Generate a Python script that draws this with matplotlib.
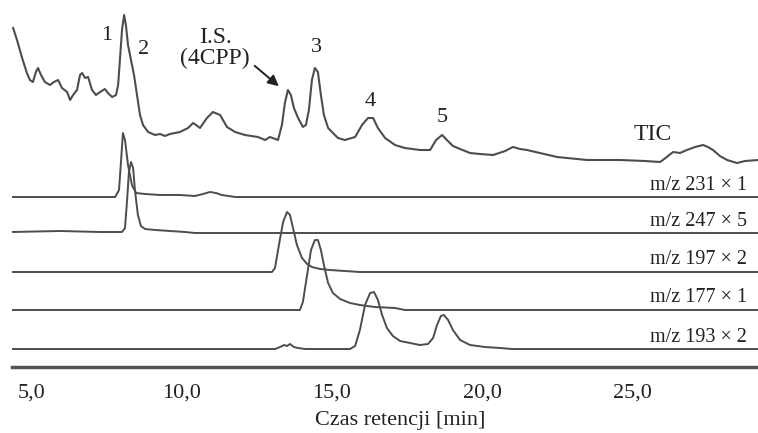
import matplotlib.pyplot as plt
import numpy as np

# retention time [min] and intensity (arbitrary units, relative to own baseline)
tic_t = [4.37, 4.50, 4.67, 4.83, 4.93, 5.03, 5.13, 5.20, 5.30, 5.43,
         5.60, 5.73, 5.87, 6.00, 6.17, 6.27, 6.37, 6.50, 6.60, 6.67,
         6.77, 6.87, 7.00, 7.13, 7.27, 7.43, 7.53, 7.67, 7.80, 7.87,
         7.93, 8.00, 8.07, 8.13, 8.20, 8.30, 8.40, 8.50, 8.60, 8.70,
         8.87, 9.10, 9.27, 9.43, 9.60, 9.93, 10.20, 10.37, 10.47, 10.60,
         10.83, 11.03, 11.27, 11.50, 11.77, 12.10, 12.53, 12.77, 12.93, 13.20,
         13.33, 13.43, 13.53, 13.63, 13.73, 13.87, 14.03, 14.13, 14.23, 14.33,
         14.43, 14.53, 14.63, 14.73, 14.87, 15.03, 15.20, 15.43, 15.77, 16.00,
         16.20, 16.37, 16.53, 16.77, 17.10, 17.43, 17.93, 18.27, 18.47, 18.67,
         18.83, 19.03, 19.27, 19.60, 19.93, 20.37, 20.77, 21.03, 21.27, 21.50,
         21.93, 22.50, 23.50, 24.60, 25.43, 25.93, 26.03, 26.37, 26.60, 26.83,
         27.10, 27.37, 27.53, 27.70, 27.93, 28.17, 28.50, 28.77, 29.20]
tic_i = [142, 130, 112, 97, 90, 88, 98, 102, 95, 88,
         85, 88, 90, 82, 78, 70, 75, 80, 95, 97,
         92, 93, 80, 75, 78, 81, 77, 73, 75, 85,
         110, 140, 155, 145, 125, 110, 95, 75, 55, 45,
         38, 35, 36, 34, 36, 38, 42, 47, 45, 42,
         52, 58, 55, 43, 38, 35, 33, 30, 33, 30,
         45, 67, 80, 75, 62, 52, 43, 45, 60, 90,
         102, 98, 75, 55, 42, 37, 32, 30, 33, 45,
         52, 52, 42, 32, 25, 22, 20, 20, 30, 35,
         30, 24, 21, 17, 16, 15, 19, 23, 21, 20,
         17, 13, 10, 10, 9, 8, 10, 18, 17, 20,
         23, 25, 23, 20, 14, 10, 7, 9, 10]

mz231_t = [4.33, 7.77, 7.90, 7.97, 8.03, 8.10, 8.20, 8.33, 8.47, 8.77,
           9.27, 9.93, 10.43, 10.70, 10.93, 11.13, 11.33, 11.77, 29.2]
mz231_i = [0, 0, 7, 37, 64, 57, 32, 12, 4, 3,
           2, 2, 1, 3, 5, 4, 2, 0, 0]

mz247_t = [4.33, 5.93, 7.27, 8.00, 8.10, 8.17, 8.23, 8.30, 8.37, 8.43,
           8.53, 8.63, 8.77, 9.10, 9.60, 10.10, 10.43, 29.2]
mz247_i = [1, 2, 1, 1, 5, 33, 61, 71, 65, 43,
           18, 7, 4, 3, 2, 1, 0, 0]

mz197_t = [4.33, 13.00, 13.10, 13.23, 13.37, 13.50, 13.60, 13.70, 13.83, 14.00,
           14.17, 14.33, 14.60, 14.93, 15.43, 15.93, 29.2]
mz197_i = [0, 0, 4, 27, 50, 60, 57, 44, 27, 14,
           8, 5, 3, 2, 1, 0, 0]

mz177_t = [4.33, 13.93, 14.03, 14.17, 14.30, 14.43, 14.53, 14.63, 14.73, 14.87,
           15.03, 15.27, 15.60, 15.93, 16.43, 17.10, 17.43, 29.2]
mz177_i = [0, 0, 8, 35, 60, 70, 70, 60, 45, 27,
           17, 11, 7, 5, 3, 2, 0, 0]

mz193_t = [4.33, 13.10, 13.27, 13.40, 13.50, 13.60, 13.73, 13.87, 14.10, 15.60,
           15.77, 15.93, 16.10, 16.27, 16.40, 16.53, 16.67, 16.83, 17.03, 17.27,
           17.60, 17.93, 18.20, 18.37, 18.50, 18.63, 18.73, 18.87, 19.03, 19.27,
           19.60, 20.10, 20.60, 21.00, 29.2]
mz193_i = [0, 0, 2, 4, 3, 5, 2, 1, 0, 0,
           3, 19, 44, 56, 57, 49, 34, 21, 13, 8,
           6, 4, 5, 11, 24, 33, 34, 29, 19, 9,
           4, 2, 1, 0, 0]

trace_labels = ['m/z 231 \u00d7 1', 'm/z 247 \u00d7 5', 'm/z 197 \u00d7 2',
                'm/z 177 \u00d7 1', 'm/z 193 \u00d7 2']
peak_labels = ['1', '2', '3', '4', '5']
xticks = [5, 10, 15, 20, 25]

plt.rcParams['font.family'] = ['Liberation Serif', 'DejaVu Serif']

fig = plt.figure(figsize=(7.58, 4.33), dpi=100)
ax = fig.add_axes([12/758, 66/433, 746/758, 367/433])

col = '#4d4d4d'
# vertical offsets of the stacked traces
tic_off = 197
offsets = [170, 134, 95, 57, 18]
traces = [(mz231_t, mz231_i), (mz247_t, mz247_i), (mz197_t, mz197_i),
          (mz177_t, mz177_i), (mz193_t, mz193_i)]

ax.plot(tic_t, np.array(tic_i) + tic_off, color=col, lw=1.5)
label_y = [182, 145, 107, 70, 30]
for (t, i), off, lab, ly in zip(traces, offsets, trace_labels, label_y):
    ax.plot(t, np.array(i) + off, color=col, lw=1.4)
    ax.text(28.83, ly, lab, ha='right', va='center', fontsize=14.5, color='#222')

# peak numbers
peak_pos = [(7.5, 332), (8.73, 317), (14.47, 319), (16.27, 265), (18.67, 250)]
for lab, (x, y) in zip(peak_labels, peak_pos):
    ax.text(x, y, lab, ha='center', va='center', fontsize=16, color='#222')

ax.text(11.1, 319, 'I.S.\n(4CPP)', ha='center', va='center', fontsize=17,
        color='#222', linespacing=0.95)
ax.annotate('', xy=(13.3, 279), xytext=(12.35, 303),
            arrowprops=dict(arrowstyle='-|>', color='#222', lw=1.4, mutation_scale=16))
ax.text(25.7, 232, 'TIC', ha='center', va='center', fontsize=17, color='#222')

ax.set_xlim(4.333, 29.2)
ax.set_ylim(0, 367)
ax.set_xticks(xticks)
ax.set_xticklabels([f'{v:.1f}'.replace('.', ',') for v in xticks])
ax.tick_params(axis='x', length=0, pad=12, labelsize=16, colors='#222')
ax.set_yticks([])
for s in ['top', 'right', 'left']:
    ax.spines[s].set_visible(False)
ax.spines['bottom'].set_linewidth(2.5)
ax.spines['bottom'].set_color('#555555')
ax.set_xlabel('Czas retencji [min]', fontsize=16, color='#222')
ax.xaxis.set_label_coords(0.52, -0.12)

fig.savefig('out.png', dpi=100)
